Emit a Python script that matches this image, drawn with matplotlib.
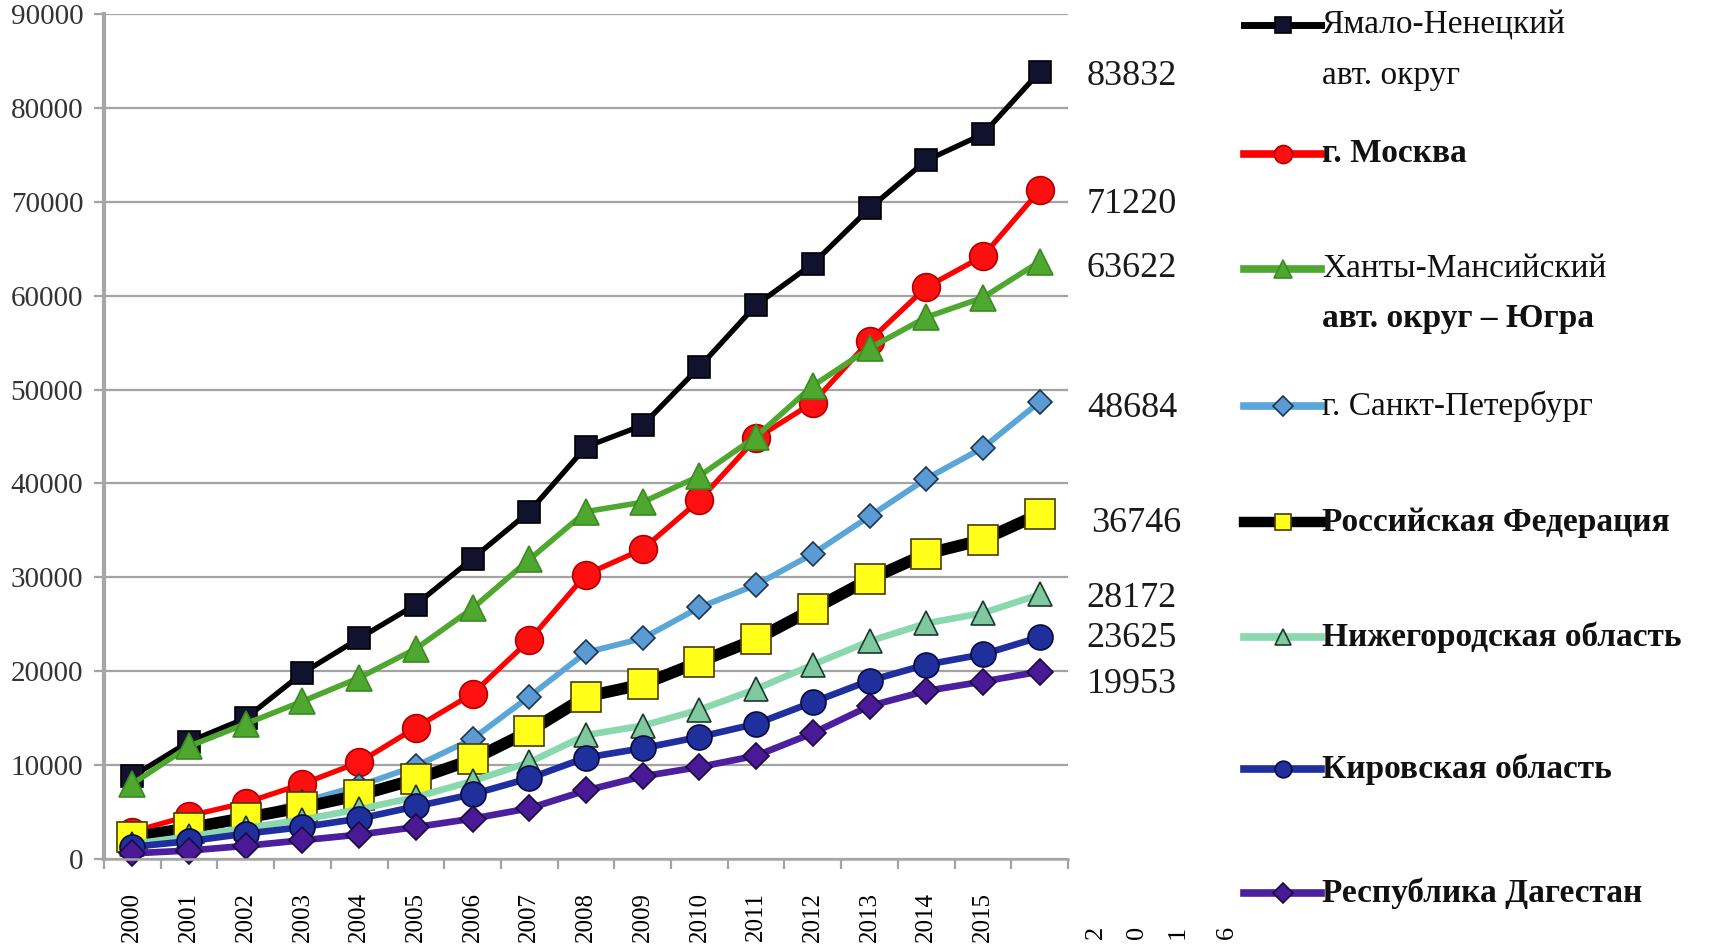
import matplotlib
matplotlib.use("Agg")
import matplotlib.pyplot as plt
from matplotlib.lines import Line2D
from matplotlib.ticker import FixedLocator, MultipleLocator

plt.rcParams['font.family'] = ['Liberation Serif', 'DejaVu Serif']

# данные (средняя номинальная зарплата, руб.)
years = list(range(2000, 2017))
yamal = [8800, 12500, 15000, 19800, 23500, 27100, 32000, 37000, 43900, 46200,
         52400, 59000, 63400, 69300, 74400, 77200, 83832]
moscow = [2900, 4600, 6000, 8000, 10300, 14000, 17600, 23300, 30300, 33000,
          38200, 44800, 48600, 55200, 60900, 64200, 71220]
khmao = [8000, 12000, 14400, 16800, 19300, 22400, 26700, 31900, 37000, 38000,
         40800, 45000, 50400, 54400, 57700, 59800, 63622]
spb = [1800, 3000, 4400, 6100, 7800, 9900, 12800, 17300, 22000, 23500,
       26800, 29200, 32500, 36500, 40500, 43800, 48684]
rf = [2300, 3300, 4400, 5500, 6800, 8500, 10600, 13600, 17300, 18600,
      21000, 23400, 26600, 29800, 32500, 34000, 36746]
nizhny = [1600, 2400, 3300, 4200, 5300, 6600, 8300, 10300, 13200, 14200,
          15900, 18100, 20700, 23200, 25100, 26200, 28172]
kirov = [1300, 1900, 2700, 3400, 4300, 5600, 6900, 8600, 10800, 11800,
         13000, 14400, 16700, 19000, 20700, 21800, 23625]
dagestan = [600, 900, 1400, 2000, 2600, 3400, 4300, 5400, 7300, 8800,
            9800, 11000, 13400, 16300, 17900, 18900, 19953]

series = [yamal, moscow, khmao, spb, rf, nizhny, kirov, dagestan]
legend_labels = [["Ямало-Ненецкий", "авт. округ"], ["г. Москва"],
                 ["Ханты-Мансийский", "авт. округ – Югра"], ["г. Санкт-Петербург"],
                 ["Российская Федерация"], ["Нижегородская область"],
                 ["Кировская область"], ["Республика Дагестан"]]
legend_bold = [[False, False], [True], [False, True], [False], [True], [True], [True], [True]]

# стиль линий: цвет, толщина, маркер, размер, заливка, обводка
styles = [
    dict(color='#000000', lw=3.8, marker='s', ms=16, mfc='#10122e', mec='#000000'),
    dict(color='#ff0000', lw=3.8, marker='o', ms=20, mfc='#ff1010', mec='#b00000'),
    dict(color='#4ea72e', lw=4.0, marker='^', ms=19, mfc='#4ea72e', mec='#3a8a20'),
    dict(color='#5aa6d8', lw=4.2, marker='D', ms=12, mfc='#5b9bd5', mec='#1c3550'),
    dict(color='#000000', lw=8.5, marker='s', ms=21, mfc='#ffff1a', mec='#4a3a00'),
    dict(color='#8ad8ae', lw=4.8, marker='^', ms=17, mfc='#80c8a0', mec='#1a3a2a'),
    dict(color='#1f2fa0', lw=4.8, marker='o', ms=18, mfc='#1f2f9c', mec='#0a0a40'),
    dict(color='#4b1f9e', lw=4.8, marker='D', ms=13, mfc='#4a1a96', mec='#1a0a40'),
]
legend_lw = [5, 5.5, 5.5, 5.5, 7.5, 5.5, 5.5, 5.5]
legend_ms = [12, 13, 13, 10, 12, 11, 12, 10]
end_offsets = [(34, -3), (34, -10), (34, -5), (34, -5), (37, -7), (34, -3), (34, -1), (34, -9)]
legend_rows = [[25, 76], [154], [269, 318], [406], [522], [637], [769], [893]]

W, H = 1709, 949
fig = plt.figure(figsize=(W / 100, H / 100), dpi=100)
ax = fig.add_axes([104 / W, 1 - 859 / H, (1068 - 104) / W, (859 - 14) / H])

x = list(range(len(years)))
for vals, st in zip(series, styles):
    ax.plot(x, vals, color=st['color'], lw=st['lw'], marker=st['marker'],
            ms=st['ms'], mfc=st['mfc'], mec=st['mec'], mew=1.2,
            solid_joinstyle='round', clip_on=False)

for vals, off in zip(series, end_offsets):
    ax.annotate(str(vals[-1]), xy=(x[-1], vals[-1]), xytext=off,
                textcoords='offset points', ha='left', va='center',
                fontsize=26, color='#1a1a1a', annotation_clip=False)

ax.set_xlim(-0.5, len(years) - 0.5)
ax.set_ylim(0, 90000)
ax.yaxis.set_major_locator(MultipleLocator(10000))
ax.grid(axis='y', color='#a3a3a3', lw=1.6)
ax.set_axisbelow(True)
for s in ['top', 'right']:
    ax.spines[s].set_visible(False)
ax.spines['left'].set_color('#a6a6a6')
ax.spines['left'].set_linewidth(3.0)
ax.spines['bottom'].set_color('#a6a6a6')
ax.spines['bottom'].set_linewidth(1.8)

ax.tick_params(axis='y', length=7, width=1.6, color='#a3a3a3', pad=8,
               labelsize=21, labelcolor='#333333')

# деления между категориями, подписи по центрам
ax.xaxis.set_major_locator(FixedLocator([i - 0.5 for i in range(len(years) + 1)]))
ax.xaxis.set_minor_locator(FixedLocator(x[:-1]))
ax.xaxis.set_major_formatter(plt.NullFormatter())
ax.set_xticklabels([str(y) for y in years[:-1]], minor=True, rotation=90,
                   fontsize=18)
ax.tick_params(axis='x', which='major', length=7, width=1.6, color='#a3a3a3')
ax.tick_params(axis='x', which='minor', length=0, pad=24)

# подпись 2016, разбитая на отдельные цифры
for ch, px in zip(str(years[-1]), [1096, 1137, 1178, 1227]):
    fig.text(px / W, 1 - 932 / H, ch, rotation=90, fontsize=19,
             ha='center', va='center')

# легенда
hx0, hx1 = 1244, 1321
for st, labels, bolds, rows, hlw, hms in zip(styles, legend_labels, legend_bold,
                                              legend_rows, legend_lw, legend_ms):
    yy = 1 - rows[0] / H
    fig.add_artist(Line2D([hx0 / W, (hx0 + hx1) / 2 / W, hx1 / W], [yy, yy, yy],
                          transform=fig.transFigure, color=st['color'],
                          lw=hlw, marker=st['marker'], markevery=[1],
                          ms=hms, mfc=st['mfc'], mec=st['mec'], mew=1.2))
    for lab, b, r in zip(labels, bolds, rows):
        fig.text(1322 / W, 1 - r / H, lab, fontsize=24, ha='left', va='center',
                 fontweight='bold' if b else 'normal', color='#111111')

fig.savefig('out.png', dpi=100)
